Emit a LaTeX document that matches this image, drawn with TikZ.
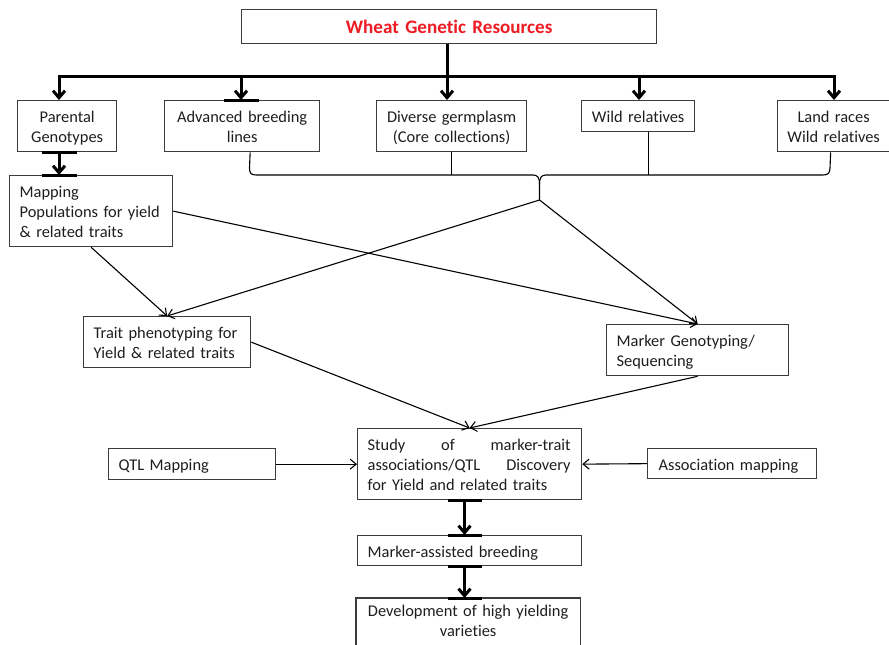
\documentclass[tikz,border=0pt]{standalone}
\usepackage{fontspec}
\setmainfont{Carlito}[Ligatures={NoCommon,NoContextual}]
\usetikzlibrary{arrows.meta,calc}
\definecolor{titlered}{RGB}{237,28,36}
\definecolor{boxgray}{RGB}{60,60,60}
\definecolor{txt}{RGB}{30,30,30}
\newcommand\bstrutA{\rule{0pt}{17.5pt}}
\newcommand\bstrutB{\rule[-4.5pt]{0pt}{4.5pt}}
\newcommand\tstrutA{\rule{0pt}{19pt}}
\newcommand\tstrutB{\rule[-5pt]{0pt}{5pt}}
\tikzset{
  box/.style={draw=boxgray, line width=1.3pt, rectangle, anchor=north west,
    inner ysep=0pt, font=\fontsize{16.4}{20}\selectfont, text=txt,
    execute at begin node=\bstrutA, execute at end node=\bstrutB},
  cbox/.style={box, align=center, inner xsep=4pt},
  lbox/.style={box, align=left, inner xsep=10pt},
  cdims/.code 2 args={\pgfmathsetmacro\boxtw{#1-8}\edef\boxnext{\noexpand\tikzset{minimum width=#1pt, minimum height=#2pt, text width=\boxtw pt}}\boxnext},
  ldims/.code 2 args={\pgfmathsetmacro\boxtw{#1-20}\edef\boxnext{\noexpand\tikzset{minimum width=#1pt, minimum height=#2pt, text width=\boxtw pt}}\boxnext},
  titlebox/.style={cbox, text=titlered, font=\fontsize{19.1}{23}\selectfont\bfseries,
    execute at begin node=\tstrutA, execute at end node=\tstrutB},
  thickline/.style={line width=3pt, black},
  thickarrow/.style={thickline, -{Straight Barb[length=7pt,width=12pt]}},
  thinarrow/.style={line width=1.1pt, black, -{Straight Barb[length=6pt,width=10pt]}},
  braceline/.style={line width=1.1pt, black},
  bar/.style={line width=3pt, black},
}
\begin{document}
\begin{tikzpicture}[x=1pt,y=-1pt]
\useasboundingbox (0,0) rectangle (889,645);
\fill[white] (0,0) rectangle (889,645);
\clip (0,0) rectangle (889,645);

% nodes
\node[titlebox, cdims={415}{34}] (top) at (241,9) {Wheat Genetic Resources};
\node[cbox, cdims={99}{51}] (pg) at (17,100) {Parental\\Genotypes};
\node[cbox, cdims={155}{51}] (abl) at (164,100) {Advanced breeding\\lines};
\node[cbox, cdims={150}{51}] (dg) at (376,100) {Diverse germplasm\\(Core collections)};
\node[cbox, cdims={113}{31}] (wr) at (581,100) {Wild relatives};
\node[cbox, cdims={112}{51}] (lr) at (777,100) {Land races\\Wild relatives};
\node[lbox, ldims={163}{71}] (map) at (9,175) {Mapping\\Populations for yield\\\& related traits};
\node[lbox, ldims={167}{51}] (trait) at (83,316) {Trait phenotyping for\\Yield \& related traits};
\node[lbox, ldims={182}{51}] (mg) at (606,324) {Marker Genotyping/\\Sequencing};
\node[lbox, ldims={224}{71}] (study) at (357,428) {\makebox[203pt][l]{Study\hfill of\hfill marker-trait}\\\makebox[203pt][l]{associations/QTL\hfill Discovery}\\for Yield and related traits};
\node[lbox, ldims={167}{31}] (qtl) at (108,448) {QTL Mapping};
\node[lbox, ldims={167}{30}, inner xsep=11pt] (assoc) at (647,448) {Association mapping};
\node[lbox, ldims={224}{30}] (mab) at (357,535) {Marker-assisted breeding};
\node[cbox, cdims={223}{43}, draw=none] (dev) at (356,598) {Development of high yielding\\varieties};
\draw[draw=boxgray, line width=1.3pt] ($(dev.south west)+(0,20)$) -- (dev.north west) -- (dev.north east) -- ($(dev.south east)+(0,20)$);

% top distribution
\coordinate (h1) at (59,76);
\coordinate (h2) at (241,76);
\coordinate (h3) at (447,76);
\coordinate (h4) at (639,76);
\coordinate (h5) at (834,76);
\draw[thickline, line cap=rect] (h1) -- (h5);
\draw[thickline] (top.south -| h3) -- (h3);
\foreach \n/\b in {1/pg,2/abl,3/dg,4/wr,5/lr}
  \draw[thickarrow] (h\n) -- (\b.north -| h\n);
\draw[thickarrow] (pg.south -| h1) -- (map.north -| h1);

% brace
\coordinate (tip) at (539.5,200);
\coordinate (bL) at ($(abl.south)+(8,0)$);
\coordinate (bR) at ($(lr.south)+(-3,0)$);
\draw[braceline] (bL) -- (249.5,168) .. controls (249.5,173) and (251,175) .. (256,175)
  -- (533,175) .. controls (537,175) and (539.5,177) .. (539.5,184) -- (tip);
\draw[braceline] (bR) -- (830,168) .. controls (830,173) and (828,175) .. (823,175)
  -- (546,175) .. controls (542,175) and (539.5,177) .. (539.5,184);
\draw[braceline] (dg.south) -- (dg.south |- 0,175);
\coordinate (wrx) at ($(wr.south)+(10,0)$);
\draw[braceline] (wrx) -- (wrx |- 0,175);

% thin arrows
\draw[thinarrow] (map.south) -- (trait.north);
\draw[thinarrow] (tip) -- (trait.north);
\draw[thinarrow] (tip) -- (mg.north);
\draw[thinarrow] (map.east) -- (mg.north);
\draw[thinarrow] (trait.east) -- (study.north);
\draw[thinarrow] (mg.south) -- (study.north);
\draw[thinarrow] (qtl.east) -- (study.west);
\draw[thinarrow] (assoc.west) -- (study.east);

% bottom thick arrows
\coordinate (cx) at (464.5,0);
\draw[thickarrow] (study.south -| cx) -- (mab.north -| cx);
\draw[thickarrow] (mab.south -| cx) -- (dev.north -| cx);

% small bars
\draw[bar] ($(abl.north -| h2)+(-17.5,0)$) -- +(35,0);
\draw[bar] ($(pg.south -| h1)+(-17.5,0)$) -- +(35,0);
\draw[bar] ($(map.north -| h1)+(-17.5,0)$) -- +(35,0);
\draw[bar] ($(study.south -| cx)+(-17,0)$) -- +(34,0);
\draw[bar] ($(mab.north -| cx)+(-17,0)$) -- +(34,0);
\draw[bar] ($(mab.south -| cx)+(-17,0)$) -- +(34,0);
\draw[bar] ($(dev.north -| cx)+(-17,0)$) -- +(34,0);
\end{tikzpicture}
\end{document}
